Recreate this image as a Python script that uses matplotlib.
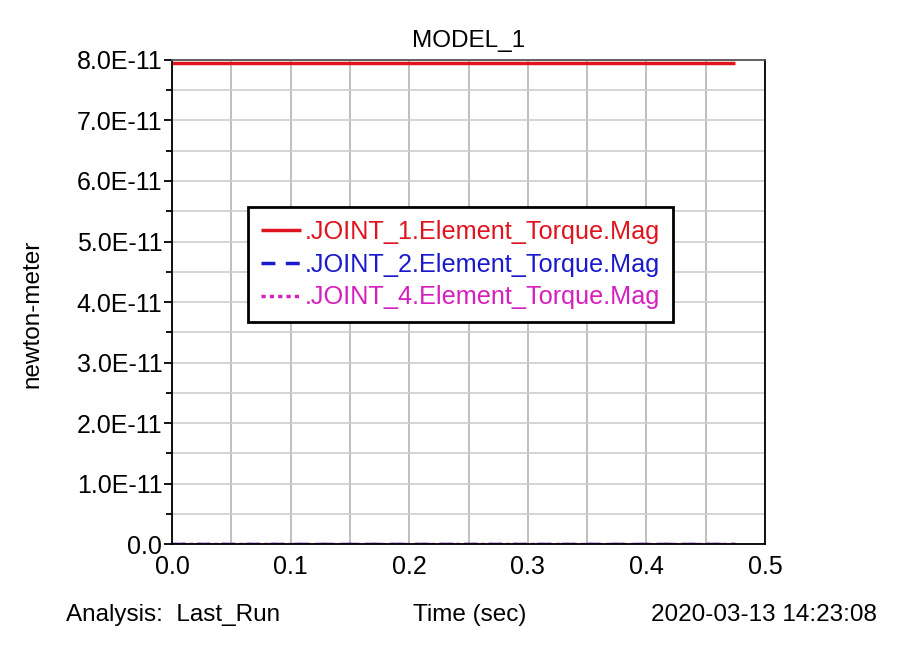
import matplotlib
matplotlib.use("Agg")
import matplotlib.pyplot as plt

# values
time = [0.0, 0.475]
joint_1 = [7.95e-11, 7.95e-11]
joint_2 = [0.0, 0.0]
joint_4 = [0.0, 0.0]

y_ticks = [0.0, 1e-11, 2e-11, 3e-11, 4e-11, 5e-11, 6e-11, 7e-11, 8e-11]
y_labels = ["0.0", "1.0E-11", "2.0E-11", "3.0E-11", "4.0E-11",
            "5.0E-11", "6.0E-11", "7.0E-11", "8.0E-11"]
x_ticks = [0.0, 0.1, 0.2, 0.3, 0.4, 0.5]
x_labels = ["0.0", "0.1", "0.2", "0.3", "0.4", "0.5"]

plt.rcParams["font.family"] = ["Liberation Sans", "DejaVu Sans"]
FS = 17.5

fig = plt.figure(figsize=(8.99, 6.52), dpi=100)
ax = fig.add_axes([0.1913, 0.1656, 0.6597, 0.7424])

ax.plot(time, joint_1, color="#e0141e", lw=2.5, solid_capstyle="butt",
        label=".JOINT_1.Element_Torque.Mag")
ax.plot(time, joint_2, color="#1a1acc", lw=2.5, ls=(0, (4, 3)),
        label=".JOINT_2.Element_Torque.Mag")
ax.plot(time, joint_4, color="#d61fbf", lw=2.5, ls=(0, (1.2, 1.2)),
        label=".JOINT_4.Element_Torque.Mag")

ax.set_xlim(0, 0.5)
ax.set_ylim(0, 8e-11)
ax.set_xticks(x_ticks)
ax.set_xticklabels(x_labels)
ax.set_xticks([0.05, 0.15, 0.25, 0.35, 0.45], minor=True)
ax.set_yticks(y_ticks)
ax.set_yticklabels(y_labels)
ax.set_yticks([0.5e-11 + k * 1e-11 for k in range(8)], minor=True)

ax.grid(True, which="both", axis="x", color="#b4b4b4", lw=1.2)
ax.grid(True, which="both", axis="y", color="#cdcdcd", lw=1.2)
ax.set_axisbelow(True)
ax.tick_params(axis="y", which="major", direction="out", length=6, width=1.3,
               labelsize=18, pad=1, colors="black")
ax.tick_params(axis="y", which="minor", direction="out", length=4, width=1.3)
ax.tick_params(axis="x", which="both", length=0, labelsize=18, pad=8)
for s in ax.spines.values():
    s.set_color("black")
    s.set_linewidth(1.3)
ax.spines["top"].set_color("#555555")

ax.set_title("MODEL_1", fontsize=FS, pad=9)
ax.set_ylabel("newton-meter", fontsize=FS)
ax.yaxis.set_label_coords(-0.2175, 0.475)

leg = ax.legend(loc="upper left", bbox_to_anchor=(0.128, 0.696), fontsize=18.2,
                handlelength=1.62, handletextpad=0.12, labelspacing=0.35,
                borderpad=0.5, borderaxespad=0, fancybox=False, framealpha=1,
                edgecolor="black")
leg.get_frame().set_linewidth(2)
for txt, line in zip(leg.get_texts(), leg.get_lines()):
    txt.set_color(line.get_color())

fig.text(0.073, 0.057, "Analysis:  Last_Run", fontsize=FS, va="center")
fig.text(0.523, 0.057, "Time (sec)", fontsize=FS, va="center", ha="center")
fig.text(0.975, 0.057, "2020-03-13 14:23:08", fontsize=FS, va="center", ha="right")

fig.savefig("out.png", dpi=100)
